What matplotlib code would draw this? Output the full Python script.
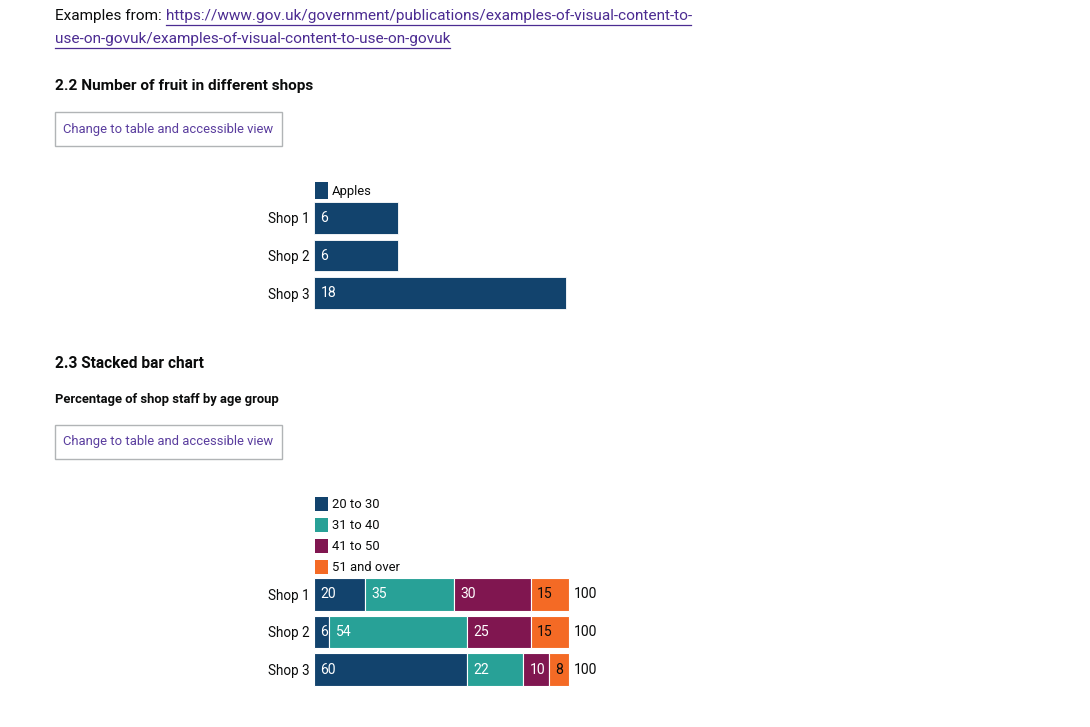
import matplotlib
matplotlib.use("Agg")
import matplotlib.pyplot as plt
from matplotlib.patches import Rectangle, Patch
from matplotlib.lines import Line2D

W, H = 1090, 727
PT = 0.72  # px -> pt at dpi 100

# ---- data ----
fruit_shops = ["Shop 1", "Shop 2", "Shop 3"]
apples = [6, 6, 18]

staff_shops = ["Shop 1", "Shop 2", "Shop 3"]
age_groups = ["20 to 30", "31 to 40", "41 to 50", "51 and over"]
age_20_30 = [20, 6, 60]
age_31_40 = [35, 54, 22]
age_41_50 = [30, 25, 10]
age_51_over = [15, 15, 8]
totals = [100, 100, 100]

C_BLUE = "#12436D"
C_TEAL = "#28A197"
C_MAROON = "#801650"
C_ORANGE = "#F46A25"
age_colors = [C_BLUE, C_TEAL, C_MAROON, C_ORANGE]
label_colors = ["white", "white", "white", "#0b0c0c"]
TEXT = "#0b0c0c"
LINK = "#4c2c92"
BTN = "#5a3d9e"

plt.rcParams['font.family'] = ['Roboto', 'DejaVu Sans']

fig = plt.figure(figsize=(W / 100, H / 100), dpi=100)
fig.patch.set_facecolor("white")

bg = fig.add_axes([0, 0, 1, 1])
bg.set_xlim(0, W)
bg.set_ylim(H, 0)
bg.axis("off")


def px_axes(left, top, width, height):
    return fig.add_axes([left / W, 1 - (top + height) / H, width / W, height / H])


BODY = 15.45 * PT
# ---- page text ----
bg.text(55, 16, "Examples from:", fontsize=BODY, color=TEXT, va="center", ha="left")
l1 = bg.text(166, 16, "https://www.gov.uk/government/publications/examples-of-visual-content-to-",
             fontsize=15.4 * PT, color=LINK, va="center", ha="left")
l2 = bg.text(55, 39, "use-on-govuk/examples-of-visual-content-to-use-on-govuk",
             fontsize=15.4 * PT, color=LINK, va="center", ha="left")

bg.text(55, 86, "2.2 Number of fruit in different shops", fontsize=15.4 * PT,
        fontweight="bold", color=TEXT, va="center", ha="left")
bg.text(55, 364, "2.3 Stacked bar chart", fontsize=15.5 * PT,
        fontweight="bold", color=TEXT, va="center", ha="left")
bg.text(55, 399, "Percentage of shop staff by age group", fontsize=13 * PT,
        fontweight="bold", color=TEXT, va="center", ha="left")

for top in (112, 425):
    bg.add_patch(Rectangle((55, top), 227, 34, facecolor="white",
                           edgecolor="#b1b4b6", linewidth=1))
    bg.text(63, top + 17, "Change to table and accessible view", fontsize=13 * PT,
            color=BTN, va="center", ha="left")

# underline the link
fig.canvas.draw()
r = fig.canvas.get_renderer()
for t, y in ((l1, 24.5), (l2, 47.5)):
    bb = t.get_window_extent(renderer=r)
    bg.add_line(Line2D([bb.x0, bb.x1 - 1], [y, y], color=LINK, linewidth=0.9))


def style_axes(ax):
    for s in ax.spines.values():
        s.set_visible(False)
    ax.set_xticks([])
    ax.tick_params(axis="y", length=0, pad=3, labelsize=13.5 * PT, labelcolor=TEXT)
    ax.set_facecolor("none")


VAL_FS = 14 * PT

# ---- chart 1 ----
ax1 = px_axes(314, 199.25, 280, 112.5)
ax1.set_xlim(0, 20)
ax1.set_ylim(2.5, -0.5)
ax1.barh(range(len(fruit_shops)), apples, height=0.85, color=C_BLUE,
         edgecolor="white", linewidth=0.6)
ax1.set_yticks(range(len(fruit_shops)), fruit_shops)
style_axes(ax1)
for i, v in enumerate(apples):
    ax1.annotate(str(v), (0, i), xytext=(6.5 * PT, 0), textcoords="offset points",
                 color="white", fontsize=VAL_FS, va="center", ha="left")
ax1.legend([Patch(facecolor=C_BLUE)], ["Apples"], loc="lower left",
           bbox_to_anchor=(0, 1.0), frameon=False, borderpad=0, borderaxespad=0.05,
           handlelength=1.0, handleheight=1.55, handletextpad=0.3,
           fontsize=13 * PT, labelcolor=TEXT)

# ---- chart 2 ----
ax2 = px_axes(314, 575.75, 280.5, 112.5)
ax2.set_xlim(0, 110)
ax2.set_ylim(2.5, -0.5)
series = [age_20_30, age_31_40, age_41_50, age_51_over]
left = [0] * len(staff_shops)
handles = []
for vals, col, lc in zip(series, age_colors, label_colors):
    ax2.barh(range(len(staff_shops)), vals, left=left, height=0.87, color=col,
             edgecolor="white", linewidth=0.8)
    for i, v in enumerate(vals):
        ax2.annotate(str(v), (left[i], i), xytext=(6.5 * PT, 0), textcoords="offset points",
                     color=lc, fontsize=VAL_FS, va="center", ha="left")
    left = [a + b for a, b in zip(left, vals)]
    handles.append(Patch(facecolor=col))
for i, tot in enumerate(totals):
    ax2.annotate(str(tot), (tot, i), xytext=(5 * PT, 0), textcoords="offset points",
                 color=TEXT, fontsize=VAL_FS, va="center", ha="left")
ax2.set_yticks(range(len(staff_shops)), staff_shops)
style_axes(ax2)
ax2.legend(handles, age_groups, loc="lower left",
           bbox_to_anchor=(0, 1.0), frameon=False, borderpad=0, borderaxespad=0.1,
           handlelength=1.0, handleheight=1.25, handletextpad=0.3, labelspacing=0.53,
           fontsize=13 * PT, labelcolor=TEXT)

fig.savefig("out.png", dpi=100, facecolor="white")
